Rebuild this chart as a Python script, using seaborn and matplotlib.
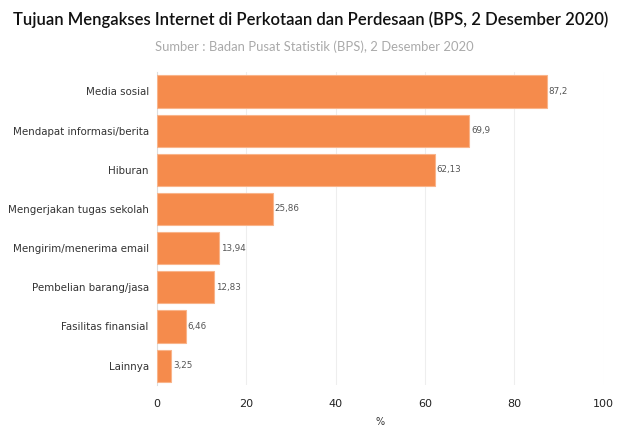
import matplotlib
matplotlib.use("Agg")
import matplotlib.pyplot as plt
import seaborn as sns
import pandas as pd

categories = ["Media sosial", "Mendapat informasi/berita", "Hiburan",
              "Mengerjakan tugas sekolah", "Mengirim/menerima email",
              "Pembelian barang/jasa", "Fasilitas finansial", "Lainnya"]
values = [87.2, 69.9, 62.13, 25.86, 13.94, 12.83, 6.46, 3.25]
value_labels = ["87,2", "69,9", "62,13", "25,86", "13,94", "12,83", "6,46", "3,25"]
x_ticks = [0, 20, 40, 60, 80, 100]

df = pd.DataFrame({"tujuan": categories, "persen": values})

sns.set_style("white")
plt.rcParams["font.family"] = ["DejaVu Sans"]

fig = plt.figure(figsize=(6.18, 4.28), dpi=100)
ax = fig.add_axes([0.254, 0.10, 0.723, 0.732])

sns.barplot(data=df, x="persen", y="tujuan", color="#F58B4C", saturation=1,
            edgecolor="#F9B48A", linewidth=0.8, width=0.82, ax=ax, zorder=3)

for i, (v, lab) in enumerate(zip(values, value_labels)):
    ax.text(v + 0.4, i, lab, va="center", ha="left", fontsize=6.3, color="#555555")

ax.set_xlim(0, 100)
ax.set_xticks(x_ticks)
ax.set_xticklabels([str(t) for t in x_ticks], fontsize=8, color="#222222")
ax.tick_params(axis="x", length=0, pad=10)
ax.tick_params(axis="y", length=3, color="#dddddd", labelsize=7.4, labelcolor="#333333", pad=3)
ax.grid(axis="x", color="#eeeeee", linewidth=0.8, zorder=0)
ax.set_ylabel("")
ax.set_xlabel("%", fontsize=7, color="#333333", labelpad=6)
for s in ["top", "right", "bottom"]:
    ax.spines[s].set_visible(False)
ax.spines["left"].set_color("#dddddd")

fig.text(0.5025, 0.955, "Tujuan Mengakses Internet di Perkotaan dan Perdesaan (BPS, 2 Desember 2020)",
         ha="center", va="center", fontsize=12.0, color="#111111", family="Lato",
         weight="semibold")
fig.text(0.508, 0.89, "Sumber : Badan Pusat Statistik (BPS), 2 Desember 2020",
         ha="center", va="center", fontsize=9.4, color="#aaaaaa", family="Lato")

fig.savefig("out.png", dpi=100)
